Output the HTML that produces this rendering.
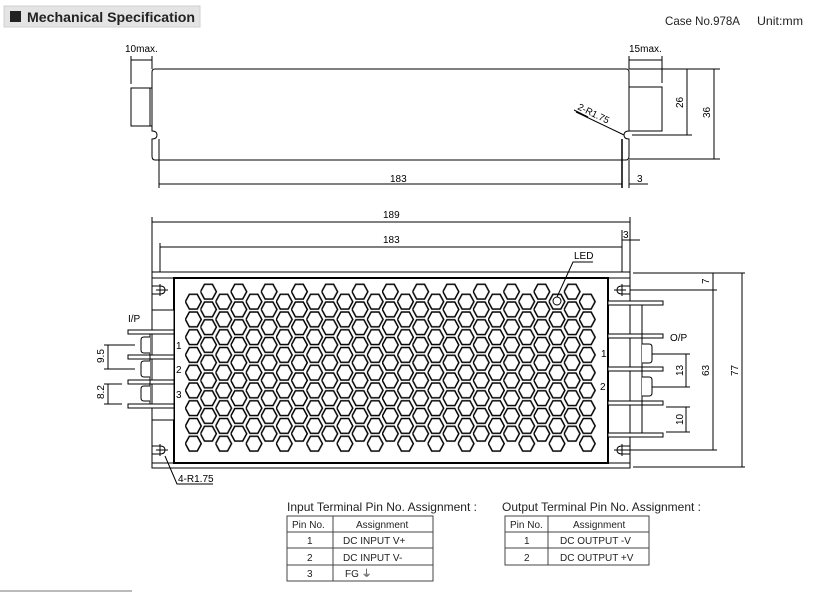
<!DOCTYPE html>
<html><head><meta charset="utf-8"><style>
html,body{margin:0;padding:0;background:#fff;}
svg{display:block;font-family:"Liberation Sans",sans-serif;}
</style></head><body>
<svg width="831" height="593" viewBox="0 0 831 593" xmlns="http://www.w3.org/2000/svg">
<defs>
<pattern id="pa" patternUnits="userSpaceOnUse" x="185.05" y="292.8" width="30.3" height="17.75">
<polygon points="0.3,8.875 4.3,1.5 12.2,1.5 16.2,8.875 12.2,16.25 4.3,16.25" fill="none" stroke="#000" stroke-width="1.5"/>
</pattern>
<pattern id="pb" patternUnits="userSpaceOnUse" x="200.2" y="282.8" width="30.3" height="17.75">
<polygon points="0.3,8.875 4.3,1.5 12.2,1.5 16.2,8.875 12.2,16.25 4.3,16.25" fill="none" stroke="#000" stroke-width="1.5"/>
</pattern>
</defs>

<rect x="4" y="6" width="196" height="21" fill="#e4e4e4" stroke="#cfcfcf"/>
<rect x="10" y="11" width="11" height="11" fill="#222"/>
<text x="27" y="22" font-size="14" font-weight="bold" fill="#222" textLength="168" lengthAdjust="spacingAndGlyphs">Mechanical Specification</text>
<text x="665" y="25" font-size="12" fill="#222" textLength="75" lengthAdjust="spacingAndGlyphs">Case No.978A</text>
<text x="757" y="25" font-size="12" fill="#222" textLength="46" lengthAdjust="spacingAndGlyphs">Unit:mm</text>

<g fill="none" stroke="#000" stroke-width="1">
<path d="M155,69 H626 Q629,69 629,72 V131 Q624,131 624,135 Q624,139 629,139 V156 Q629,160 626,160 H155 Q152,160 152,156 V139 Q157,139 157,135 Q157,131 152,131 V72 Q152,69 155,69 Z"/>
<rect x="131" y="88" width="21" height="38"/>
<line x1="150" y1="88" x2="150" y2="126"/>
<rect x="629" y="87" width="33" height="44"/>
<line x1="131" y1="56" x2="131" y2="84"/><line x1="152" y1="56" x2="152" y2="69"/>
<line x1="131" y1="60" x2="152" y2="60"/>
<line x1="629" y1="56" x2="629" y2="69"/><line x1="662" y1="56" x2="662" y2="83"/>
<line x1="629" y1="60" x2="662" y2="60"/>
<line x1="629" y1="69" x2="720" y2="69"/>
<line x1="632" y1="135" x2="692" y2="135"/>
<line x1="629" y1="159" x2="720" y2="159"/>
<line x1="687" y1="69" x2="687" y2="135"/>
<line x1="714" y1="69" x2="714" y2="159"/>
<line x1="159" y1="139" x2="159" y2="188"/>
<line x1="622" y1="139" x2="622" y2="188" stroke-width="1.5"/>
<line x1="629" y1="160" x2="629" y2="188"/>
<line x1="159" y1="184" x2="622" y2="184"/>
<line x1="629" y1="184" x2="648" y2="184"/>
<line x1="576" y1="112" x2="624" y2="135"/>
<line x1="574" y1="110" x2="588" y2="117"/>
</g>
<text x="125" y="52" font-size="10">10max.</text>
<text x="629" y="52" font-size="10">15max.</text>
<text x="390" y="182" font-size="10">183</text>
<text x="637" y="182" font-size="10">3</text>
<text font-size="10" transform="translate(683,108) rotate(-90)">26</text>
<text font-size="10" transform="translate(710,118) rotate(-90)">36</text>
<text font-size="9.5" transform="translate(577,109) rotate(26)">2-R1.75</text>

<g fill="none" stroke="#000" stroke-width="1">
<line x1="152" y1="217" x2="152" y2="272"/>
<line x1="630" y1="217" x2="630" y2="272"/>
<line x1="152" y1="222" x2="630" y2="222"/>
<line x1="160" y1="243" x2="160" y2="272"/>
<line x1="622" y1="230" x2="622" y2="272"/>
<line x1="160" y1="247" x2="622" y2="247"/>
<line x1="622" y1="240" x2="640" y2="240"/>
</g>
<text x="383" y="218" font-size="10">189</text>
<text x="383" y="243" font-size="10">183</text>
<text x="623" y="238" font-size="10">3</text>

<g fill="none" stroke="#000" stroke-width="1">
<path d="M152,272 H630 V468 H152 Z"/>
<line x1="152" y1="278" x2="630" y2="278"/>
<line x1="152" y1="463" x2="630" y2="463"/>
<path d="M152,286 H160 Q165,286 165,290 Q165,294 160,294 H152"/>
<line x1="156" y1="290" x2="168" y2="290"/><line x1="160" y1="284" x2="160" y2="296"/>
<path d="M152,446 H160 Q165,446 165,450 Q165,454 160,454 H152"/>
<line x1="156" y1="450" x2="168" y2="450"/><line x1="160" y1="444" x2="160" y2="456"/>
<path d="M630,286 H622 Q617,286 617,290 Q617,294 622,294 H630"/>
<line x1="614" y1="290" x2="626" y2="290"/><line x1="622" y1="284" x2="622" y2="296"/>
<path d="M630,446 H622 Q617,446 617,450 Q617,454 622,454 H630"/>
<line x1="614" y1="450" x2="626" y2="450"/><line x1="622" y1="444" x2="622" y2="456"/>
</g>
<rect x="174" y="278" width="434" height="185" fill="#fff" stroke="#000" stroke-width="2"/>
<rect x="185.05" y="292.8" width="411" height="159.75" fill="url(#pa)"/>
<rect x="200.2" y="282.8" width="381" height="159.75" fill="url(#pb)"/>
<circle cx="557" cy="301" r="4" fill="#fff" stroke="#000"/>

<g fill="#fff" stroke="#000" stroke-width="1">
<rect x="152" y="310" width="22" height="110" fill="#fff"/>
<rect x="128" y="330" width="46" height="4"/>
<rect x="128" y="355" width="46" height="4"/>
<rect x="128" y="380" width="46" height="4"/>
<rect x="128" y="404" width="46" height="4"/>
<line x1="150" y1="334" x2="150" y2="404"/>
<path d="M150,337 H144 Q141,337 141,340 V350 Q141,353 144,353 H150"/>
<path d="M150,361 H144 Q141,361 141,364 V374 Q141,377 144,377 H150"/>
<path d="M150,386 H144 Q141,386 141,389 V398 Q141,401 144,401 H150"/>
</g>
<g stroke="#000" stroke-width="1" fill="none">
<line x1="104" y1="345" x2="135" y2="345"/>
<line x1="104" y1="369" x2="135" y2="369"/>
<line x1="108" y1="345" x2="108" y2="369"/>
<line x1="104" y1="384" x2="122" y2="384"/>
<line x1="104" y1="404" x2="122" y2="404"/>
<line x1="108" y1="384" x2="108" y2="404"/>
<path d="M165,456 L177,484 H213"/>
</g>
<text x="128" y="322" font-size="10">I/P</text>
<text x="176" y="349" font-size="10">1</text>
<text x="176" y="373" font-size="10">2</text>
<text x="176" y="398" font-size="10">3</text>
<text font-size="10" transform="translate(104,363) rotate(-90)">9.5</text>
<text font-size="10" transform="translate(104,399) rotate(-90)">8.2</text>
<text x="178" y="482" font-size="10">4-R1.75</text>

<g fill="#fff" stroke="#000" stroke-width="1">
<rect x="608" y="301" width="55" height="4"/>
<rect x="608" y="334" width="55" height="4"/>
<rect x="608" y="367" width="55" height="4"/>
<rect x="608" y="401" width="55" height="4"/>
<rect x="608" y="433" width="55" height="4"/>
<line x1="642" y1="305" x2="642" y2="433"/>
<path d="M642,344 H649 Q652,344 652,347 V360 Q652,363 649,363 H642"/>
<path d="M642,377 H649 Q652,377 652,380 V393 Q652,396 649,396 H642"/>
</g>
<g stroke="#000" stroke-width="1" fill="none">
<line x1="652" y1="354" x2="690" y2="354"/>
<line x1="652" y1="387" x2="690" y2="387"/>
<line x1="686" y1="354" x2="686" y2="387"/>
<line x1="666" y1="407" x2="690" y2="407"/>
<line x1="666" y1="432" x2="690" y2="432"/>
<line x1="686" y1="407" x2="686" y2="432"/>
<line x1="633" y1="273" x2="745" y2="273"/>
<line x1="630" y1="290" x2="717" y2="290"/>
<line x1="626" y1="450" x2="717" y2="450"/>
<line x1="633" y1="467" x2="745" y2="467"/>
<line x1="713" y1="273" x2="713" y2="450"/>
<line x1="742" y1="273" x2="742" y2="467"/>
<path d="M557,297 L573,262 H593"/>
</g>
<text x="670" y="341" font-size="10">O/P</text>
<text x="601" y="357" font-size="10">1</text>
<text x="600" y="390" font-size="10">2</text>
<text font-size="10" transform="translate(683,376) rotate(-90)">13</text>
<text font-size="10" transform="translate(683,425) rotate(-90)">10</text>
<text font-size="10" transform="translate(709,284) rotate(-90)">7</text>
<text font-size="10" transform="translate(709,376) rotate(-90)">63</text>
<text font-size="10" transform="translate(738,376) rotate(-90)">77</text>
<text x="574" y="259" font-size="10">LED</text>

<text x="287" y="511" font-size="12" fill="#222" textLength="190" lengthAdjust="spacingAndGlyphs">Input Terminal Pin No.  Assignment :</text>
<text x="502" y="511" font-size="12" fill="#222" textLength="199" lengthAdjust="spacingAndGlyphs">Output Terminal Pin No.  Assignment :</text>
<g fill="none" stroke="#444" stroke-width="1">
<rect x="287" y="516" width="146" height="65"/>
<line x1="333" y1="516" x2="333" y2="581"/>
<line x1="287" y1="532" x2="433" y2="532"/>
<line x1="287" y1="548" x2="433" y2="548"/>
<line x1="287" y1="565" x2="433" y2="565"/>
<rect x="505" y="516" width="144" height="49"/>
<line x1="548" y1="516" x2="548" y2="565"/>
<line x1="505" y1="532" x2="649" y2="532"/>
<line x1="505" y1="548" x2="649" y2="548"/>
</g>
<g font-size="10" fill="#222">
<text x="292" y="528">Pin No.</text><text x="356" y="528">Assignment</text>
<text x="307" y="544">1</text><text x="343" y="544">DC INPUT V+</text>
<text x="307" y="561">2</text><text x="343" y="561">DC INPUT V-</text>
<text x="307" y="577">3</text><text x="345" y="577">FG ⏚</text>
<text x="510" y="528">Pin No.</text><text x="573" y="528">Assignment</text>
<text x="524" y="544">1</text><text x="560" y="544">DC OUTPUT -V</text>
<text x="524" y="561">2</text><text x="560" y="561">DC OUTPUT +V</text>
</g>
<line x1="0" y1="591" x2="132" y2="591" stroke="#bbb" stroke-width="2"/>
</svg>
</body></html>
